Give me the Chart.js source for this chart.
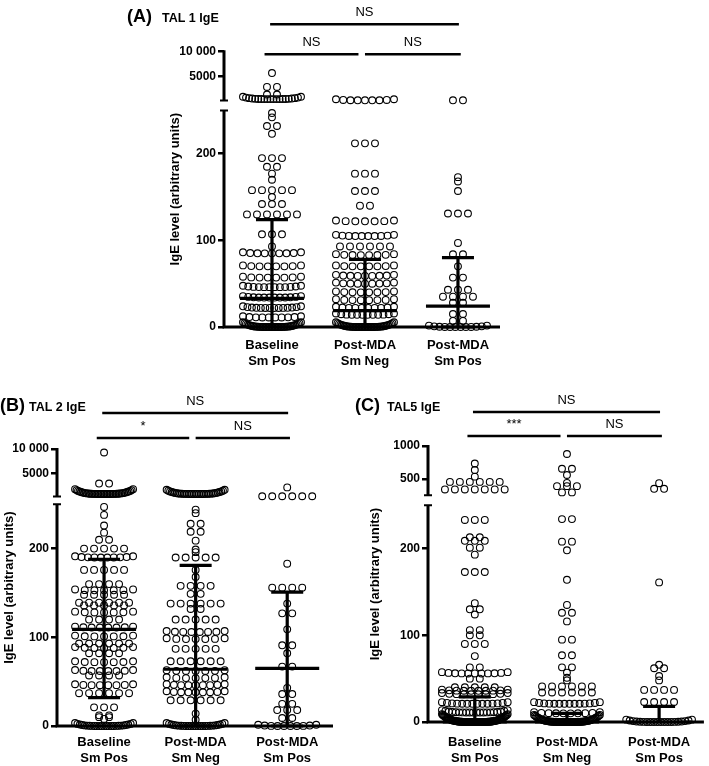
<!DOCTYPE html>
<html>
<head>
<meta charset="utf-8">
<script src="https://cdn.jsdelivr.net/npm/chart.js@4.4.0/dist/chart.umd.min.js"></script>
<style>
    body { margin: 0; background: #fff; }
    #wrap { position: relative; width: 709px; height: 766px; }
    canvas { position: absolute; }
</style>
</head>
<body>
<div id="wrap">
    <canvas id="chartA" width="400" height="372" style="left:110px;top:0px"></canvas>
    <canvas id="chartB" width="350" height="391" style="left:0px;top:375px"></canvas>
    <canvas id="chartC" width="359" height="391" style="left:350px;top:375px"></canvas>
</div>
<script>
// categories and ticks
const categories = [['Baseline', 'Sm Pos'], ['Post-MDA', 'Sm Neg'], ['Post-MDA', 'Sm Pos']];
const lowerTicks = [0, 100, 200];
const tal12UpperTicks = [5000, 10000];
const tal5UpperTicks = [500, 1000];

// rows of dots: [IgE value, number of dots at that value]
const tal1Baseline = [[5700, 1], [2950, 2], [1450, 2], [540, 20], [247, 1], [242, 1], [232, 2], [223, 1], [195, 3], [185, 2], [177, 1], [170, 1], [158, 5], [150, 1], [142, 3], [130, 6], [107, 3], [93, 1], [85, 9], [70, 8], [57, 8], [46, 12], [34, 12], [22, 14], [11, 10], [0, 40]];
const tal1PostNeg = [[300, 9], [212, 3], [177, 3], [157, 3], [140, 2], [122, 7], [105, 10], [93, 6], [83, 8], [70, 8], [59, 9], [50, 9], [40, 8], [31, 8], [22, 10], [14, 12], [0, 40]];
const tal1PostPos = [[300, 2], [173, 1], [168, 1], [157, 1], [131, 3], [97, 1], [84, 2], [70, 1], [57, 2], [43, 3], [35, 4], [28, 2], [15, 2], [7, 2], [0, 12]];
const tal1Median = [33, 19, 24];
const tal1Q1 = [0, 0, 0];
const tal1Q3 = [124, 78, 80];
const tal1Sig = ['NS', 'NS', 'NS'];

const tal2Baseline = [[9300, 1], [2900, 2], [750, 40], [247, 1], [238, 1], [226, 1], [218, 1], [210, 2], [200, 5], [190, 10], [176, 5], [160, 4], [153, 7], [148, 5], [139, 6], [136, 5], [128, 7], [120, 4], [111, 8], [101, 7], [93, 6], [88, 7], [82, 4], [72, 7], [62, 8], [57, 4], [46, 8], [37, 6], [21, 3], [12, 2], [10, 2], [8, 1], [0, 25]];
const tal2PostNeg = [[750, 35], [244, 1], [240, 1], [228, 2], [219, 2], [209, 1], [199, 1], [196, 1], [190, 5], [176, 1], [168, 1], [158, 4], [149, 2], [138, 6], [132, 2], [120, 5], [106, 8], [98, 7], [87, 5], [73, 6], [62, 7], [54, 7], [46, 9], [38, 9], [29, 6], [14, 1], [7, 1], [0, 25]];
const tal2PostPos = [[2100, 1], [280, 6], [183, 1], [156, 4], [138, 1], [127, 2], [109, 1], [91, 2], [82, 1], [67, 2], [43, 1], [36, 2], [25, 2], [18, 3], [9, 2], [0, 10]];
const tal2Median = [109, 64, 65];
const tal2Q1 = [32, 0, 0];
const tal2Q3 = [188, 181, 151];
const tal2Sig = ['*', 'NS', 'NS'];

const tal5Baseline = [[735, 1], [635, 1], [535, 1], [455, 6], [340, 7], [233, 3], [213, 2], [209, 3], [201, 2], [193, 1], [173, 3], [137, 1], [130, 2], [124, 1], [106, 2], [100, 2], [90, 3], [76, 1], [63, 2], [56, 11], [50, 2], [40, 5], [36, 10], [32, 10], [21, 14], [11, 20], [0, 80]];
const tal5PostNeg = [[880, 1], [655, 2], [560, 1], [440, 1], [390, 3], [295, 2], [234, 2], [208, 2], [198, 1], [164, 1], [135, 1], [126, 2], [116, 1], [95, 2], [77, 2], [63, 2], [57, 1], [51, 1], [48, 1], [41, 6], [34, 6], [21, 14], [10, 10], [0, 60]];
const tal5PostPos = [[435, 1], [350, 2], [161, 1], [66, 1], [62, 2], [53, 1], [48, 1], [37, 4], [23, 4], [0, 20]];
const tal5Median = [0, 0, 0];
const tal5Q1 = [0, 0, 0];
const tal5Q3 = [29, 10, 18];
const tal5Sig = ['***', 'NS', 'NS'];

const FONT = '"Liberation Sans", Arial, sans-serif';
Chart.defaults.font.family = FONT;
Chart.defaults.color = '#000';

const panels = [
    {
        canvas: 'chartA', label: '(A)', name: 'TAL 1 IgE', labelX: 17, subX: 52, labelBase: 22,
        groups: [tal1Baseline, tal1PostNeg, tal1PostPos],
        median: tal1Median, q1: tal1Q1, q3: tal1Q3, sig: tal1Sig,
        upperTicks: tal12UpperTicks, upperMax: 10000,
        axisLeft: 114, padRight: 10, axisHeight: 45, labelPad: 11,
        pxY: 0.88, gap: 11.4, upperSpan: 56.8, xMin: -0.516, xMax: 2.452,
        swarmW: 58, sigY: [3, -27], titleX: 65
    },
    {
        canvas: 'chartB', label: '(B)', name: 'TAL 2 IgE', labelX: 0, subX: 29, labelBase: 36,
        groups: [tal2Baseline, tal2PostNeg, tal2PostPos],
        median: tal2Median, q1: tal2Q1, q3: tal2Q3, sig: tal2Sig,
        upperTicks: tal12UpperTicks, upperMax: 10000,
        axisLeft: 57, padRight: 17, axisHeight: 40, labelPad: 9,
        pxY: 0.9, gap: 8.9, upperSpan: 53.3, xMin: -0.514, xMax: 2.5,
        swarmW: 58, sigY: [-11, -36], titleX: 9
    },
    {
        canvas: 'chartC', label: '(C)', name: 'TAL5 IgE', labelX: 5, subX: 37, labelBase: 36,
        groups: [tal5Baseline, tal5PostNeg, tal5PostPos],
        median: tal5Median, q1: tal5Q1, q3: tal5Q3, sig: tal5Sig,
        upperTicks: tal5UpperTicks, upperMax: 1000,
        axisLeft: 78, padRight: 4, axisHeight: 44, labelPad: 13,
        pxY: 0.88, gap: 11.4, upperSpan: 56.8, xMin: -0.508, xMax: 2.486,
        swarmW: 66, sigY: [-10, -34], titleX: 25
    }
];

// broken axis: 0-250 linear, a gap, then 250-max linear
function toDisplay(v, p) {
    if (v <= 250) return v;
    return 250 + p.gap + (v - 250) / (p.upperMax - 250) * p.upperSpan;
}

function tickLabel(v) {
    return v >= 10000 ? String(v).replace(/\B(?=(\d{3})+(?!\d))/g, ' ') : String(v);
}

// lay the dots of each row side by side around the category
function swarm(rows, idx, p, pxX) {
    const pts = [];
    rows.forEach(([v, n]) => {
        const natural = 10 * (n - 1);
        const width = Math.min(natural, p.swarmW);
        const lift = natural > p.swarmW ? Math.min(8, 0.12 * n) : 0;
        for (let k = 0; k < n; k++) {
            const off = n > 1 ? -width / 2 + k * width / (n - 1) : 0;
            const t = width ? off / (width / 2) : 0;
            pts.push({ x: idx + off / pxX, y: toDisplay(v, p) + lift * Math.pow(t, 4) / p.pxY });
        }
    });
    return pts;
}

const pairs = [[0, 1, 0], [1, 2, 0], [0, 2, 1]];

function makeDecor(p) {
    return {
        id: 'decor',
        beforeDatasetsDraw(chart) {
            const { ctx, chartArea, scales: { y } } = chart;
            const ax = chartArea.left;
            const y0 = y.getPixelForValue(0);
            const yLow = y.getPixelForValue(250);
            const yUp = y.getPixelForValue(250 + p.gap);
            const yTop = y.getPixelForValue(toDisplay(p.upperMax, p));
            ctx.save();
            ctx.strokeStyle = '#000';
            ctx.lineWidth = 3;
            ctx.beginPath();
            ctx.moveTo(ax, y0 + 1.5); ctx.lineTo(ax, yLow);
            ctx.moveTo(ax, yUp); ctx.lineTo(ax, yTop - 1.2);
            ctx.moveTo(ax - 1.5, y0); ctx.lineTo(chartArea.right, y0);
            ctx.stroke();
            ctx.lineWidth = 2;
            ctx.beginPath();
            ctx.moveTo(ax - 4, yLow); ctx.lineTo(ax + 4, yLow);
            ctx.moveTo(ax - 4, yUp); ctx.lineTo(ax + 4, yUp);
            ctx.stroke();
            ctx.restore();
        },
        afterDatasetsDraw(chart) {
            const { ctx, scales: { x, y } } = chart;
            ctx.save();
            ctx.strokeStyle = '#000';
            ctx.lineWidth = 3.2;
            p.median.forEach((m, i) => {
                const cx = x.getPixelForValue(i);
                const yM = y.getPixelForValue(toDisplay(m, p));
                const yA = y.getPixelForValue(toDisplay(p.q1[i], p));
                const yB = y.getPixelForValue(toDisplay(p.q3[i], p));
                ctx.beginPath();
                ctx.moveTo(cx, yA); ctx.lineTo(cx, yB);
                ctx.moveTo(cx - 16, yA); ctx.lineTo(cx + 16, yA);
                ctx.moveTo(cx - 16, yB); ctx.lineTo(cx + 16, yB);
                ctx.moveTo(cx - 32, yM); ctx.lineTo(cx + 32, yM);
                ctx.stroke();
            });
            ctx.restore();
        },
        afterDraw(chart) {
            const { ctx, scales: { x, y } } = chart;
            const y0 = y.getPixelForValue(0);
            const yTop = y.getPixelForValue(toDisplay(p.upperMax, p));
            ctx.save();
            ctx.fillStyle = '#000';
            ctx.strokeStyle = '#000';
            // significance bars
            ctx.lineWidth = 2.5;
            ctx.font = '13px ' + FONT;
            ctx.textAlign = 'center';
            ctx.textBaseline = 'alphabetic';
            p.sig.forEach((label, k) => {
                const [a, b, row] = pairs[k];
                let x0, x1;
                if (row === 1) { x0 = a - 0.02; x1 = b + 0.01; }
                else { x0 = a === 0 ? a - 0.08 : a; x1 = b === 1 ? b - 0.07 : b + 0.03; }
                const yy = yTop + p.sigY[row];
                const px0 = x.getPixelForValue(x0), px1 = x.getPixelForValue(x1);
                ctx.beginPath();
                ctx.moveTo(px0, yy); ctx.lineTo(px1, yy);
                ctx.stroke();
                ctx.fillText(label, (px0 + px1) / 2, yy - 8);
            });
            // axis title
            ctx.save();
            ctx.translate(p.titleX, (y0 + yTop) / 2);
            ctx.rotate(-Math.PI / 2);
            ctx.font = 'bold 13px ' + FONT;
            ctx.textBaseline = 'middle';
            ctx.fillText('IgE level (arbitrary units)', 0, 0);
            ctx.restore();
            // panel label
            ctx.textAlign = 'left';
            ctx.font = 'bold 18px ' + FONT;
            ctx.fillText(p.label, p.labelX, p.labelBase);
            ctx.font = 'bold 12.5px ' + FONT;
            ctx.fillText(p.name, p.subX, p.labelBase);
            ctx.restore();
        }
    };
}

function buildChart(p) {
    const canvas = document.getElementById(p.canvas);
    const pxX = (canvas.width - p.axisLeft - p.padRight) / (p.xMax - p.xMin);
    const yMax = (canvas.height - p.axisHeight) / p.pxY;
    const yTickVals = lowerTicks.concat(p.upperTicks);

    const datasets = p.groups.map((rows, i) => ({
        data: swarm(rows, i, p, pxX),
        pointRadius: 3.4,
        pointBorderWidth: 1.1,
        pointBorderColor: '#000',
        pointBackgroundColor: 'rgba(0,0,0,0)',
        clip: false
    }));

    new Chart(canvas, {
        type: 'scatter',
        data: { datasets: datasets },
        options: {
            responsive: false,
            animation: false,
            devicePixelRatio: 1,
            layout: { padding: { left: 0, right: p.padRight, top: 0, bottom: 0 } },
            plugins: { legend: { display: false }, tooltip: { enabled: false } },
            scales: {
                x: {
                    type: 'linear', min: p.xMin, max: p.xMax,
                    afterBuildTicks: s => { s.ticks = categories.map((c, i) => ({ value: i })); },
                    afterFit: s => { s.height = p.axisHeight; s.paddingLeft = 0; s.paddingRight = 0; },
                    ticks: {
                        callback: (v, i) => categories[i],
                        autoSkip: false, maxRotation: 0, minRotation: 0,
                        padding: p.labelPad, color: '#000',
                        font: { size: 13, weight: 'bold' }
                    },
                    grid: { display: false, drawTicks: false },
                    border: { display: false }
                },
                y: {
                    type: 'linear', min: 0, max: yMax,
                    afterBuildTicks: s => { s.ticks = yTickVals.map(v => ({ value: toDisplay(v, p) })); },
                    afterFit: s => { s.width = p.axisLeft; s.paddingTop = 0; s.paddingBottom = 0; },
                    ticks: {
                        callback: (v, i) => tickLabel(yTickVals[i]),
                        autoSkip: false, padding: 2, color: '#000',
                        font: { size: 12, weight: 'bold' }
                    },
                    grid: { drawOnChartArea: false, drawTicks: true, tickLength: 6, lineWidth: 2.5, color: '#000' },
                    border: { display: false }
                }
            }
        },
        plugins: [makeDecor(p)]
    });
}

panels.forEach(buildChart);
</script>
</body>
</html>
